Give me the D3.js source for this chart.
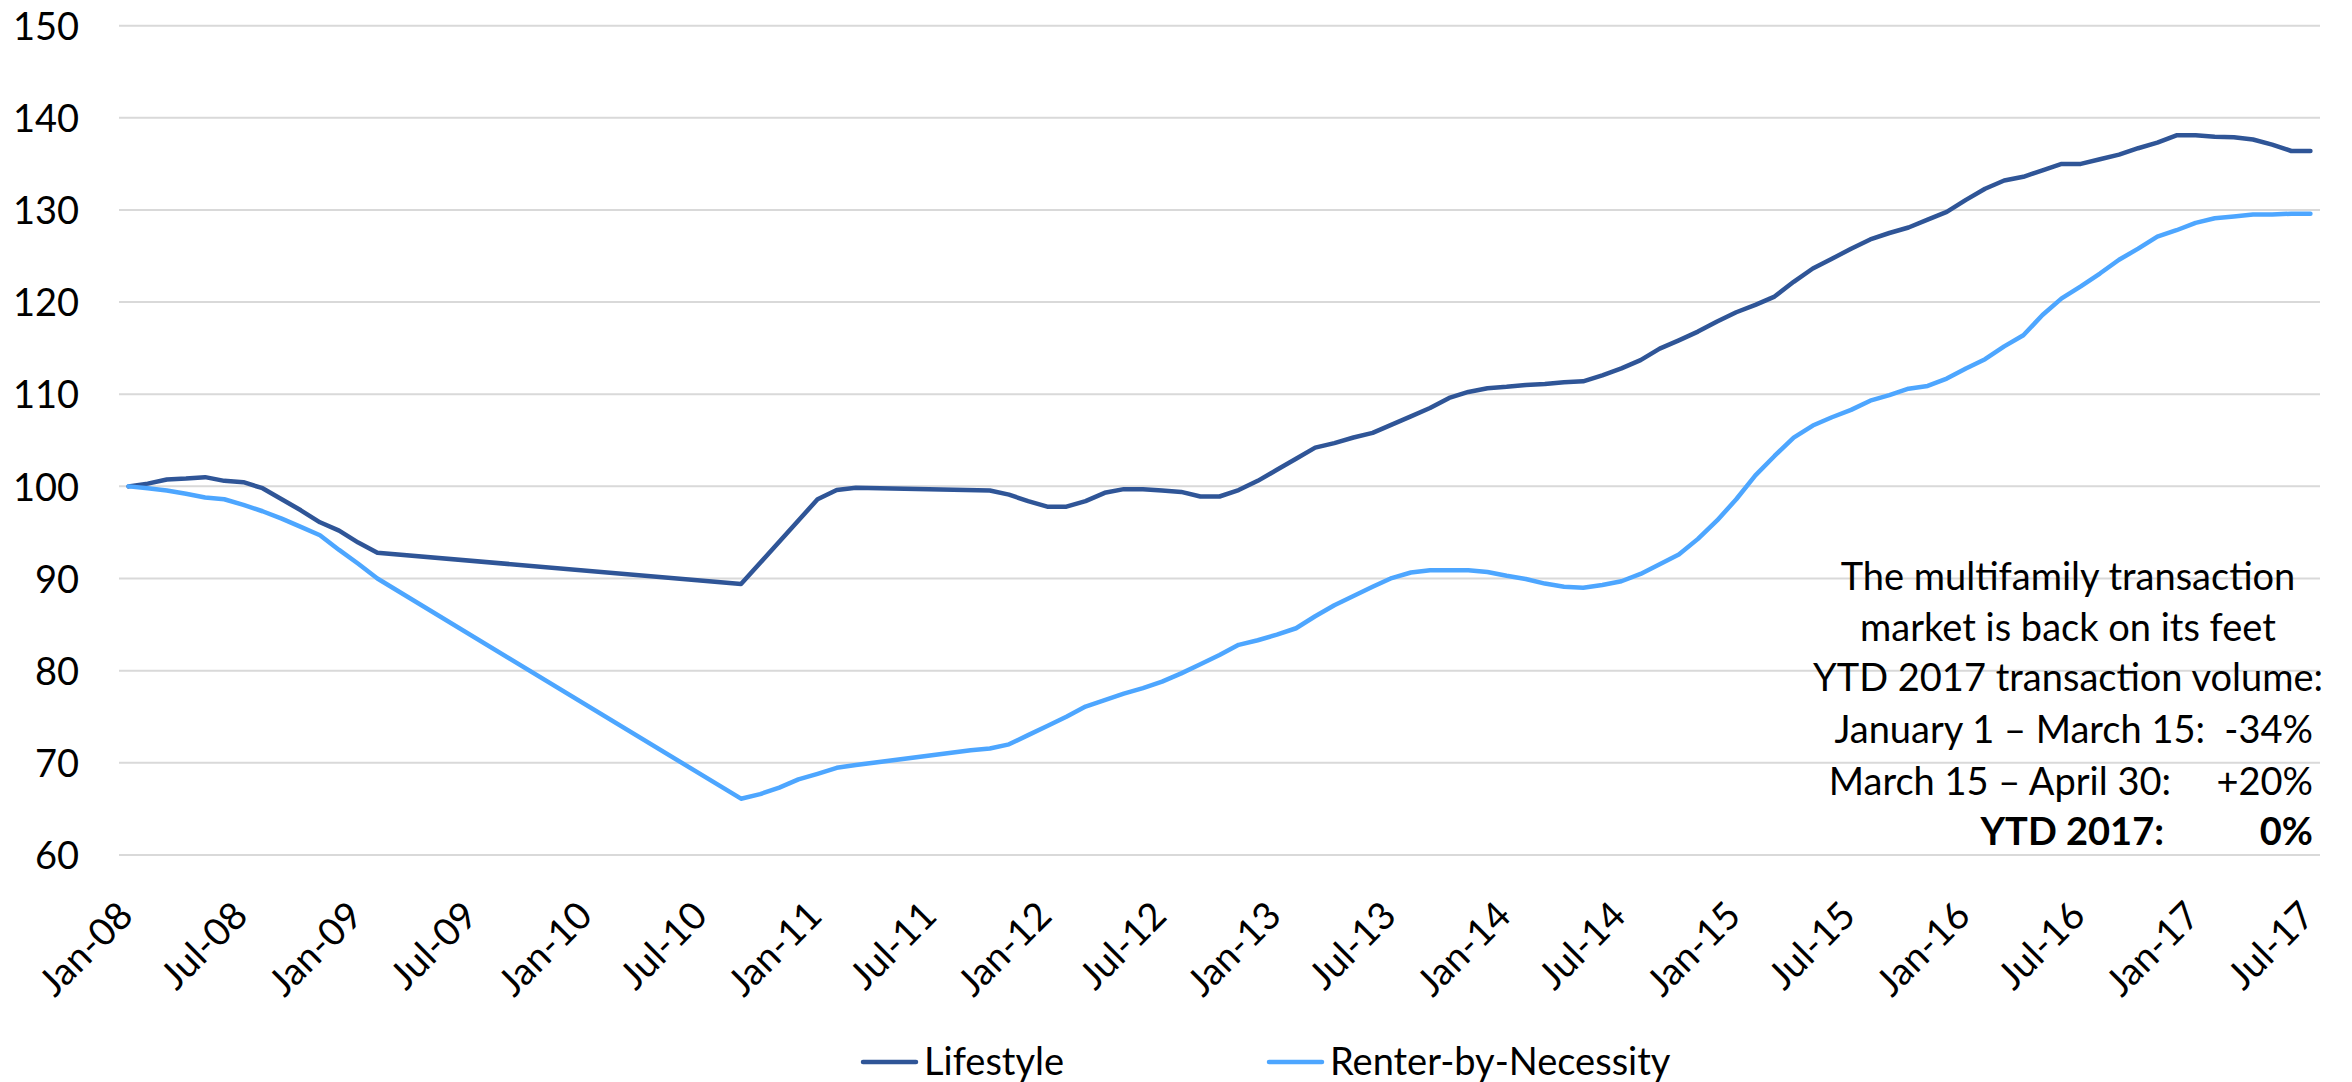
<!DOCTYPE html>
<html><head><meta charset="utf-8">
<script src="https://cdn.jsdelivr.net/npm/d3@7"></script>
<style>
body{margin:0;background:#fff;}
svg{display:block;}
text{font-family:Lato,"Open Sans",sans-serif;fill:#000;}
</style>
</head><body>
<svg id="chart" width="2352" height="1082"></svg>
<script>
// ---- data ----
const startMonth = new Date(2008, 0, 1);
const endMonth = new Date(2017, 6, 1);
const fmt = d3.timeFormat("%b-%y");
const categories = d3.timeMonth.range(startMonth, d3.timeMonth.offset(endMonth, 1)).map(fmt); // Jan-08 .. Jul-17 (115 months)

const tickLabels = ["Jan-08","Jul-08","Jan-09","Jul-09","Jan-10","Jul-10","Jan-11","Jul-11","Jan-12","Jul-12",
  "Jan-13","Jul-13","Jan-14","Jul-14","Jan-15","Jul-15","Jan-16","Jul-16","Jan-17","Jul-17"];
const yTicks = [60,70,80,90,100,110,120,130,140,150];

const N = null;
// Lifestyle index (null = no observation; line connects the surrounding points)
const lifestyle = [
 100.0,100.3,100.75,100.85,101.0,100.6,100.45,99.8,98.6,97.4,96.1,95.2,      // 2008
 93.9,92.8,N,N,N,N,N,N,N,N,N,N,                                              // 2009
 N,N,N,N,N,N,N,N,89.4,N,N,N,                                                 // 2010
 98.6,99.6,99.85,N,N,N,N,N,N,99.55,99.1,98.4,                                // 2011
 97.8,97.8,98.4,99.3,99.7,99.7,99.55,99.4,98.9,98.9,99.6,100.6,              // 2012
 101.8,103.0,104.2,104.7,105.3,105.8,106.7,107.6,108.5,109.6,110.25,110.65,  // 2013
 110.8,111.0,111.1,111.3,111.4,112.05,112.8,113.7,114.95,115.85,116.8,117.9, // 2014
 118.9,119.7,120.6,122.2,123.65,124.7,125.8,126.8,127.5,128.1,128.95,129.8,  // 2015
 131.1,132.3,133.2,133.6,134.3,135.0,135.0,135.5,136.0,136.7,137.3,138.1,    // 2016
 138.1,137.95,137.9,137.65,137.1,136.4,136.4                                 // 2017
];
const renterByNecessity = [
 100.0,99.8,99.55,99.2,98.8,98.6,98.0,97.3,96.5,95.6,94.7,93.1,              // 2008
 91.6,90.0,N,N,N,N,N,N,N,N,N,N,                                              // 2009
 N,N,N,N,N,N,N,N,66.1,66.6,67.3,68.2,                                        // 2010
 68.8,69.45,69.75,N,N,N,N,N,71.35,71.55,72.0,73.0,                           // 2011
 74.0,75.0,76.1,76.8,77.5,78.1,78.8,79.7,80.7,81.7,82.8,83.3,                // 2012
 83.9,84.6,85.9,87.1,88.1,89.1,90.05,90.65,90.9,90.9,90.9,90.7,              // 2013
 90.3,89.95,89.45,89.1,89.0,89.3,89.7,90.5,91.55,92.6,94.3,96.3,             // 2014
 98.6,101.2,103.3,105.3,106.6,107.5,108.3,109.3,109.9,110.6,110.9,111.7,     // 2015
 112.8,113.8,115.2,116.4,118.6,120.4,121.7,123.1,124.6,125.8,127.1,127.8,    // 2016
 128.6,129.1,129.3,129.5,129.5,129.6,129.6                                   // 2017
];
const seriesNames = ["Lifestyle","Renter-by-Necessity"];
const seriesColors = ["#2F5597","#4DA6FF"];

const annotationLines = ["The multifamily transaction","market is back on its feet","YTD 2017 transaction volume:"];
const periodLabels = ["January 1 \u2013 March 15:","March 15 \u2013 April 30:","YTD 2017:"];
const periodValues = ["-34%","+20%","0%"];

// ---- chart ----
const svg = d3.select("#chart");
const FS = 38;
const x = d3.scaleBand().domain(categories).range([119, 2320]).paddingInner(0).paddingOuter(0);
const bw = x.bandwidth();
const cx = m => x(m) + bw / 2;
const y = d3.scaleLinear().domain([60, 150]).range([854.9, 25.7]);

// gridlines
svg.append("g").selectAll("line").data(yTicks).join("line")
  .attr("x1", 119).attr("x2", 2320)
  .attr("y1", d => y(d)).attr("y2", d => y(d))
  .attr("stroke", "#d9d9d9").attr("stroke-width", 2);

// y axis labels
const yAxis = svg.append("g").attr("transform", "translate(79,0)")
  .call(d3.axisLeft(y).tickValues(yTicks).tickSize(0).tickPadding(0));
yAxis.select(".domain").remove();
yAxis.selectAll("text").attr("font-size", FS).attr("font-family", "Lato").attr("dy", "0.36em").attr("fill", "#000");

// x axis labels
const xAxis = svg.append("g").attr("transform", "translate(0,855)")
  .call(d3.axisBottom(d3.scalePoint().domain(categories).range([cx(categories[0]), cx(categories[categories.length-1])]))
    .tickValues(tickLabels).tickSize(0));
xAxis.select(".domain").remove();
xAxis.selectAll("text")
  .attr("font-size", FS).attr("font-family", "Lato").attr("fill", "#000")
  .attr("x", 0).attr("y", 0).attr("dy", 0)
  .attr("text-anchor", "end")
  .attr("transform", "translate(6,63) rotate(-45)");

// lines
const line = d3.line().x(d => cx(d.m)).y(d => y(d.v));
[lifestyle, renterByNecessity].forEach((vals, i) => {
  const pts = categories.map((m, k) => ({m, v: vals[k]})).filter(d => d.v !== null);
  svg.append("path").datum(pts)
    .attr("d", line)
    .attr("fill", "none")
    .attr("stroke", seriesColors[i])
    .attr("stroke-width", 4.5)
    .attr("stroke-linejoin", "round")
    .attr("stroke-linecap", "round");
});

// annotation
const ann = svg.append("g").attr("font-size", FS);
const annY = [590, 641, 691];
annotationLines.forEach((t, i) => {
  ann.append("text").attr("x", 2068).attr("y", annY[i]).attr("text-anchor", "middle").text(t);
});
const perY = [743, 795, 845];
const perLabelEnd = [2205, 2171, 2164];
periodLabels.forEach((t, i) => {
  ann.append("text").attr("x", perLabelEnd[i]).attr("y", perY[i]).attr("text-anchor", "end")
    .attr("font-weight", i === 2 ? "bold" : null).text(t);
  ann.append("text").attr("x", 2313).attr("y", perY[i]).attr("text-anchor", "end")
    .attr("font-weight", i === 2 ? "bold" : null).text(periodValues[i]);
});

// legend
const legX = [863, 1269];
const leg = svg.append("g");
seriesNames.forEach((name, i) => {
  leg.append("line").attr("x1", legX[i]).attr("x2", legX[i] + 53)
    .attr("y1", 1062).attr("y2", 1062)
    .attr("stroke", seriesColors[i]).attr("stroke-width", 4.5).attr("stroke-linecap", "round");
  leg.append("text").attr("x", legX[i] + 61).attr("y", 1075).attr("font-size", FS).text(name);
});
</script>
</body></html>
